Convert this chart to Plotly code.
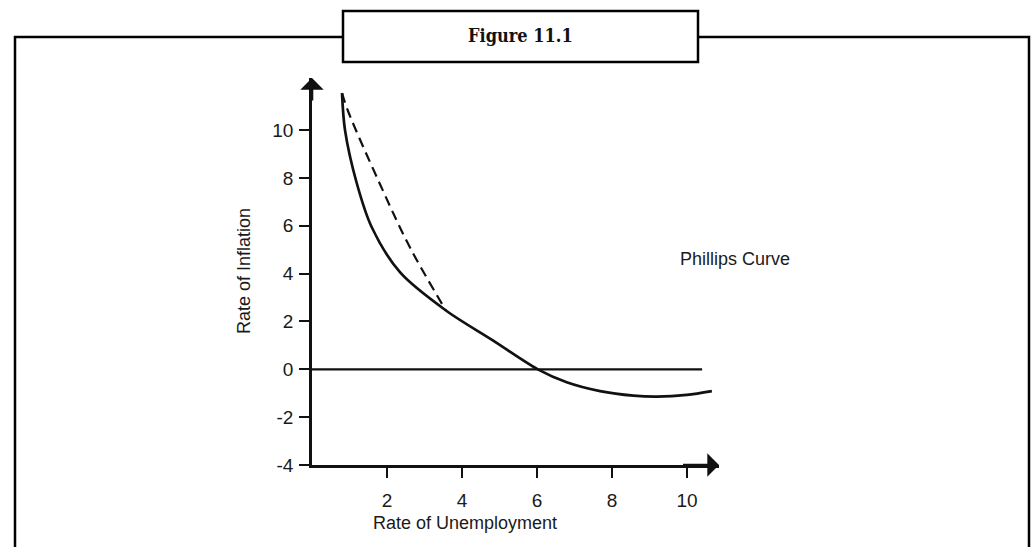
import plotly.graph_objects as go

# Phillips curve
unemployment = [0.8, 0.88, 1.19, 1.59, 2.35, 3.57, 4.8, 6.02, 6.79, 7.68, 8.57, 9.19, 9.99, 10.66]
inflation = [11.55, 10.0, 7.8, 5.95, 4.05, 2.46, 1.23, 0.0, -0.54, -0.91, -1.1, -1.14, -1.07, -0.91]

# dashed chord across the steep part
dash_x = [0.8, 0.96, 1.81, 2.61, 3.57]
dash_y = [11.55, 10.8, 7.75, 5.1, 2.46]

# zero-inflation line
zero_x = [0, 10.4]
zero_y = [0, 0]

x_ticks = [2, 4, 6, 8, 10]
y_ticks = [-4, -2, 0, 2, 4, 6, 8, 10]
y_tick_text = ["-4", "-2", "0", "2", "4", "6", "8", "10"]

W, H = 1034, 547
FONT = "Liberation Sans, Arial, sans-serif"
INK = "#111111"

fig = go.Figure()
fig.add_trace(go.Scatter(x=zero_x, y=zero_y, mode="lines",
                         line=dict(color=INK, width=2.4), hoverinfo="skip"))
fig.add_trace(go.Scatter(x=dash_x, y=dash_y, mode="lines",
                         line=dict(color=INK, width=2.2, dash="10px,6px", shape="spline"), hoverinfo="skip"))
fig.add_trace(go.Scatter(x=unemployment, y=inflation, mode="lines",
                         line=dict(color=INK, width=2.7, shape="spline", smoothing=0.9), hoverinfo="skip"))


def px_x(p):
    return p / W


def px_y(p):
    return 1 - p / H


x_max = 10.85
y_max = 12.18

fig.update_layout(
    width=W, height=H,
    margin=dict(l=0, r=0, t=0, b=0, autoexpand=False),
    paper_bgcolor="white", plot_bgcolor="white",
    showlegend=False,
    font=dict(family=FONT, color="#1a1a1a", size=18),
    xaxis=dict(domain=[px_x(312), px_x(719)], range=[0, x_max],
               tickvals=x_ticks, ticks="outside", ticklen=10, tickwidth=2.4, tickcolor=INK,
               showline=True, linecolor=INK, linewidth=2.7, showgrid=False, zeroline=False,
               tickfont=dict(size=19), ticklabelstandoff=6, fixedrange=True, automargin=False),
    yaxis=dict(domain=[px_y(465), px_y(78)], range=[-4, y_max],
               tickvals=y_ticks, ticktext=y_tick_text, ticks="outside", ticklen=10, tickwidth=2.4, tickcolor=INK,
               showline=True, linecolor=INK, linewidth=2.7, showgrid=False, zeroline=False,
               tickfont=dict(size=19), ticklabelstandoff=2, fixedrange=True, automargin=False),
)

# arrow heads on both axes
fig.add_annotation(x=0, y=y_max, ax=0, ay=y_max - 1, xref="x", yref="y", axref="x", ayref="y",
                   showarrow=True, arrowhead=1, arrowsize=1.5, arrowwidth=2.6, arrowcolor=INK, text="")
fig.add_annotation(x=x_max, y=-4, ax=x_max - 1, ay=-4, xref="x", yref="y", axref="x", ayref="y",
                   showarrow=True, arrowhead=1, arrowsize=1.5, arrowwidth=2.6, arrowcolor=INK, text="")

label = dict(xref="paper", yref="paper", showarrow=False, xanchor="center", yanchor="middle")
fig.add_annotation(x=px_x(735), y=px_y(259), text="Phillips Curve", font=dict(size=18), **label)
fig.add_annotation(x=px_x(465), y=px_y(523), text="Rate of Unemployment", font=dict(size=18), **label)
fig.add_annotation(x=px_x(244), y=px_y(271), text="Rate of Inflation", textangle=-90,
                   font=dict(size=18), **label)

# frame with the title box
frame = dict(color="black", width=2.5)
fig.add_shape(type="path", xref="paper", yref="paper",
              path=f"M {px_x(15)},{px_y(560)} L {px_x(15)},{px_y(37)} L {px_x(343)},{px_y(37)}",
              line=frame)
fig.add_shape(type="path", xref="paper", yref="paper",
              path=f"M {px_x(698)},{px_y(37)} L {px_x(1029)},{px_y(37)} L {px_x(1029)},{px_y(560)}",
              line=frame)
fig.add_shape(type="rect", xref="paper", yref="paper",
              x0=px_x(343), x1=px_x(698), y0=px_y(62), y1=px_y(11), line=frame)
fig.add_annotation(x=px_x(520), y=px_y(36), text="<b>Figure 11.1</b>",
                   font=dict(family="DejaVu Serif Condensed, Liberation Serif, serif", size=18, color=INK),
                   **label)

# browser default body margin would shift the whole figure by 8px
fig.write_html("out.html", config={"displayModeBar": False},
               post_script="document.body.style.margin='0px';")
